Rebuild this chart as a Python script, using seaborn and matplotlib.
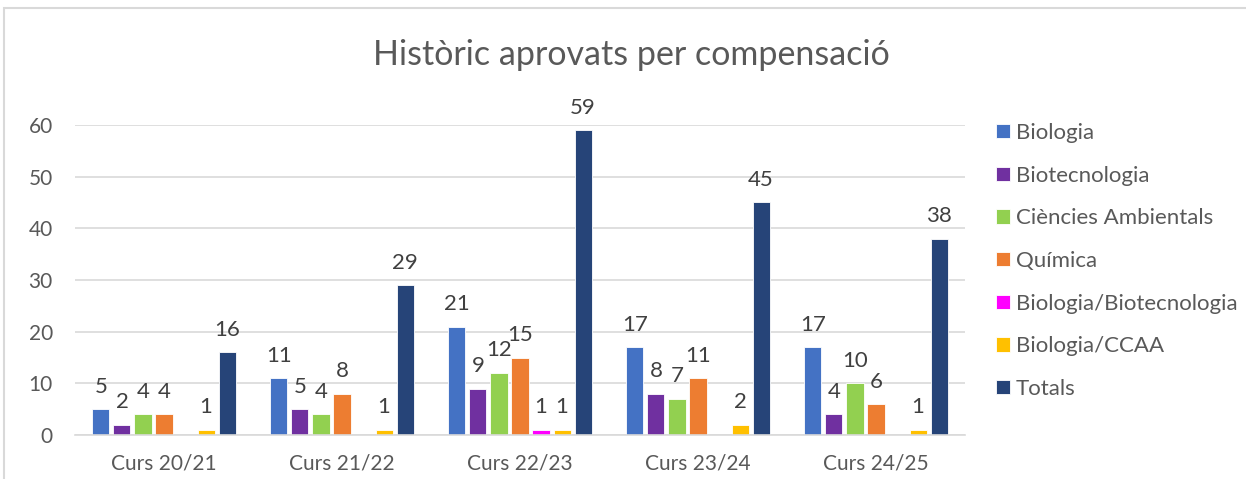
import matplotlib
matplotlib.use("Agg")
import matplotlib.pyplot as plt
import seaborn as sns
import pandas as pd
from matplotlib.patches import Rectangle

categories = ["Curs 20/21", "Curs 21/22", "Curs 22/23", "Curs 23/24", "Curs 24/25"]
series_names = ["Biologia", "Biotecnologia", "Ciències Ambientals", "Química",
                "Biologia/Biotecnologia", "Biologia/CCAA", "Totals"]
biologia = [5, 11, 21, 17, 17]
biotecnologia = [2, 5, 9, 8, 4]
ciencies_ambientals = [4, 4, 12, 7, 10]
quimica = [4, 8, 15, 11, 6]
bio_biotec = [0, 0, 1, 0, 0]
bio_ccaa = [1, 1, 1, 2, 1]
totals = [16, 29, 59, 45, 38]
colors = ["#4472C4", "#7030A0", "#92D050", "#ED7D31", "#FF00FF", "#FFC000", "#264478"]
yticks = [0, 10, 20, 30, 40, 50, 60]
title = "Històric aprovats per compensació"

series_values = [biologia, biotecnologia, ciencies_ambientals, quimica, bio_biotec, bio_ccaa, totals]
rows = []
for name, vals in zip(series_names, series_values):
    for c, v in zip(categories, vals):
        rows.append({"Curs": c, "Serie": name, "Valor": v})
df = pd.DataFrame(rows)

sns.set_theme(style="white")
plt.rcParams["font.family"] = ["Lato", "DejaVu Sans"]
text_color = "#595959"

W, H = 1246, 479
fig = plt.figure(figsize=(W / 100, H / 100), dpi=100)
ax = fig.add_axes([75 / W, 1 - 435 / H, (965 - 75) / W, (435 - 125) / H])

sns.barplot(data=df, x="Curs", y="Valor", hue="Serie", order=categories,
            hue_order=series_names, palette=colors, saturation=1,
            width=0.826, gap=0.19,
            edgecolor="white", linewidth=0.6, ax=ax, legend=True)

for cont, vals in zip(ax.containers, series_values):
    labels = [str(v) if v != 0 else "" for v in vals]
    ax.bar_label(cont, labels=labels, padding=9, fontsize=16, color="#404040")

ax.set_ylim(0, 60)
ax.set_yticks(yticks)
ax.set_yticklabels([str(t) for t in yticks])
ax.yaxis.grid(True, color="#D9D9D9", linewidth=1.2)
ax.set_axisbelow(True)
for s in ["top", "right", "left"]:
    ax.spines[s].set_visible(False)
ax.spines["bottom"].set_color("#D9D9D9")
ax.spines["bottom"].set_linewidth(1.2)
ax.set_xlabel("")
ax.set_ylabel("")
ax.tick_params(axis="x", length=0, pad=13, labelsize=15, labelcolor=text_color)
ax.tick_params(axis="y", length=0, pad=16, labelsize=15, labelcolor=text_color)
ax.set_xlim(-0.5, 4.5)

leg = ax.legend(loc="upper left", bbox_to_anchor=(996 / W, 1 - 123 / H),
                bbox_transform=fig.transFigure, frameon=False,
                fontsize=16, handlelength=0.63, handleheight=0.63,
                handletextpad=0.25, labelspacing=1.02, borderaxespad=0,
                borderpad=0)
for t in leg.get_texts():
    t.set_color(text_color)

fig.text(631 / W, 1 - 55 / H, title, ha="center", va="center",
         fontsize=24.5, color=text_color)

fig.patches.append(Rectangle((4 / W, -0.1), 1.2, 1.1 - 8 / H,
                             transform=fig.transFigure, fill=False,
                             edgecolor="#D9D9D9", linewidth=1.5))

fig.savefig("out.png", dpi=100)
